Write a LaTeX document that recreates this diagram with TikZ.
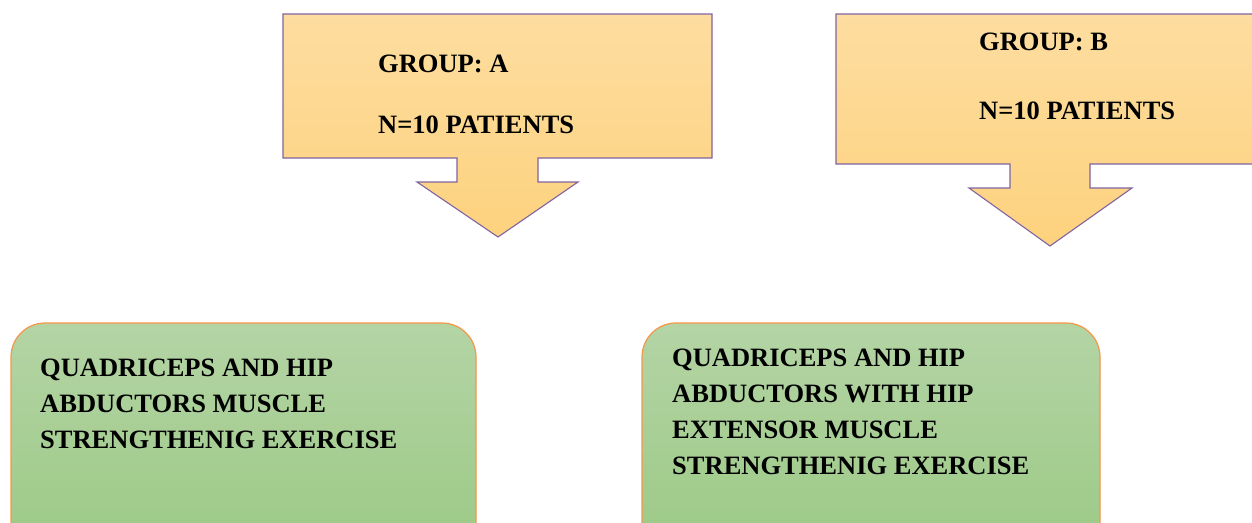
\documentclass[tikz,border=0pt]{standalone}
\usepackage{fontspec}
\setmainfont{Liberation Serif}
\begin{document}
\begin{tikzpicture}[x=1pt,y=-1pt,
  callout/.style={draw=calloutline, line width=1.1pt, line join=miter, top color=orangetop, bottom color=orangebot},
  greenbox/.style={draw=greenline, line width=1.2pt, rounded corners=34pt, top color=greentop, bottom color=greenbot},
  lbl/.style={font=\bfseries\fontsize{26.5}{35.8}\selectfont, inner sep=0pt, anchor=base west, align=left, text=black}]
\definecolor{calloutline}{HTML}{8064A2}
\definecolor{orangetop}{HTML}{FDDDA0}
\definecolor{orangebot}{HTML}{FDD27E}
\definecolor{greenline}{HTML}{F79646}
\definecolor{greentop}{HTML}{B4D4A5}
\definecolor{greenbot}{HTML}{9BC985}
\useasboundingbox (0,0) rectangle (1252,522);
\clip (0,0) rectangle (1252,522);
% callout A
\path[callout] (283,14) -- (712,14) -- (712,158) -- (538,158) -- (538,182) -- (578,182)
  -- (498,237) -- (417,182) -- (457,182) -- (457,158) -- (283,158) -- cycle;
% callout B
\path[callout] (836,14) -- (1262,14) -- (1262,164) -- (1090,164) -- (1090,188) -- (1132,188)
  -- (1050,246) -- (969,188) -- (1010,188) -- (1010,164) -- (836,164) -- cycle;
% green boxes
\path[greenbox] (11,323) rectangle (476,560);
\path[greenbox] (642,323) rectangle (1100,560);
% texts
\node[lbl] (ga) at (378,72) {GROUP: A};
\node[lbl] (na) at (378,133) {N=10 PATIENTS};
\node[lbl] (gb) at (979,50) {GROUP: B};
\node[lbl] (nb) at (979,119) {N=10 PATIENTS};
\node[lbl] (ta) at (40,448) {QUADRICEPS AND HIP\\ABDUCTORS MUSCLE\\STRENGTHENIG EXERCISE};
\node[lbl] (tb) at (672,474) {QUADRICEPS AND HIP\\ABDUCTORS WITH HIP\\EXTENSOR MUSCLE\\STRENGTHENIG EXERCISE};
\end{tikzpicture}
\end{document}
